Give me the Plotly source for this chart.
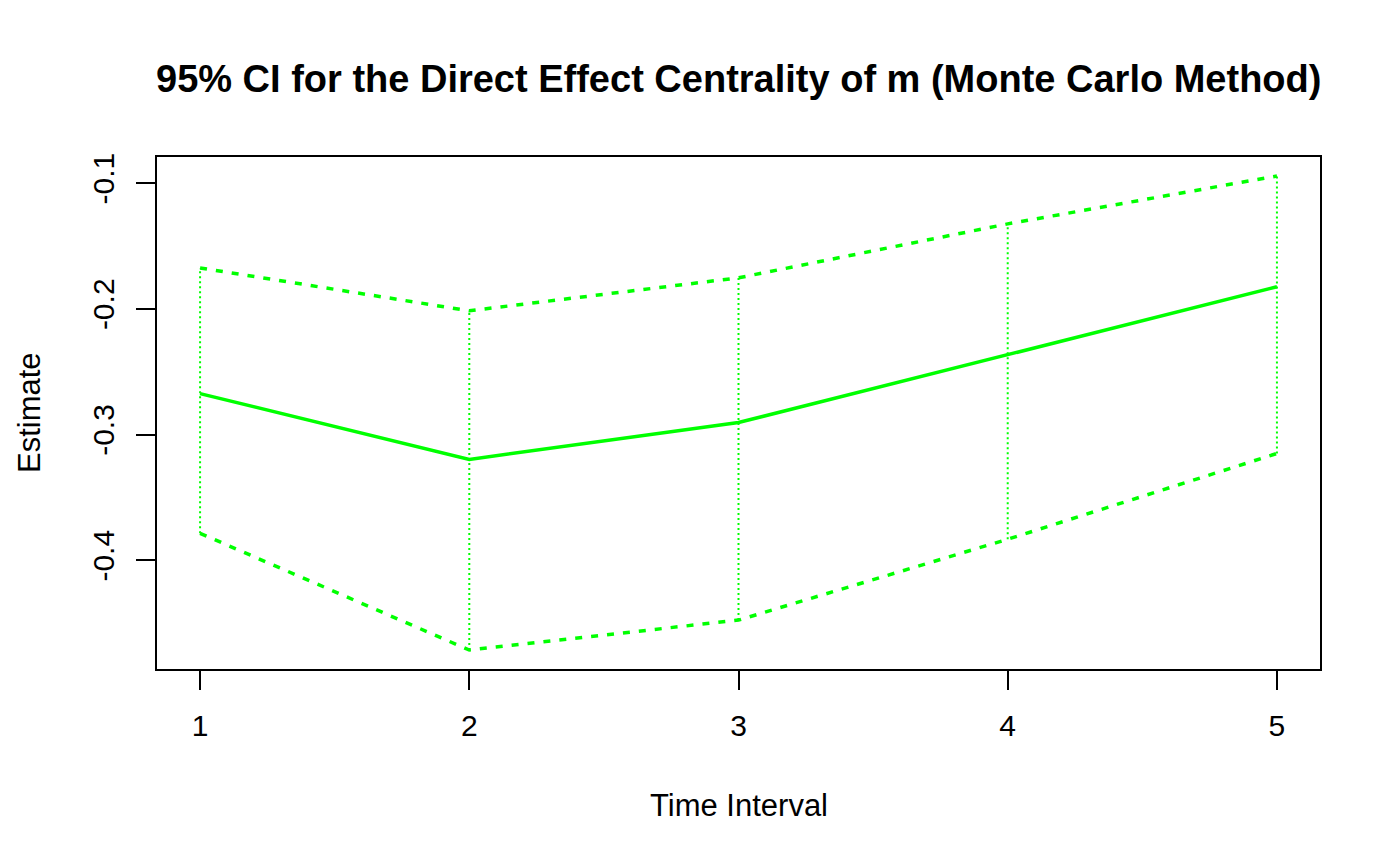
import plotly.graph_objects as go

intervals = [1, 2, 3, 4, 5]
estimate = [-0.2675, -0.3198, -0.2905, -0.2365, -0.1825]
upper = [-0.1675, -0.2016, -0.1754, -0.1325, -0.0944]
lower = [-0.3786, -0.4714, -0.4476, -0.3833, -0.3151]
y_ticks = [-0.4, -0.3, -0.2, -0.1]
y_tick_labels = ["-0.4", "-0.3", "-0.2", "-0.1"]

green = "#00FF00"
font = "Liberation Sans, Arial, Helvetica, sans-serif"

vx, vy = [], []
for x, lo, hi in zip(intervals, lower, upper):
    vx += [x, x, None]
    vy += [lo, hi, None]

fig = go.Figure()
fig.add_trace(go.Scatter(x=vx, y=vy, mode="lines",
                         line=dict(color=green, width=2, dash="2px,3px"),
                         hoverinfo="skip", showlegend=False))
fig.add_trace(go.Scatter(x=intervals, y=upper, mode="lines",
                         line=dict(color=green, width=3.5, dash="7px,9px"), showlegend=False))
fig.add_trace(go.Scatter(x=intervals, y=lower, mode="lines",
                         line=dict(color=green, width=3.5, dash="7px,9px"), showlegend=False))
fig.add_trace(go.Scatter(x=intervals, y=estimate, mode="lines",
                         line=dict(color=green, width=3.5), showlegend=False))

fig.update_layout(
    width=1392, height=858,
    paper_bgcolor="white", plot_bgcolor="white",
    margin=dict(l=149, r=80, t=149, b=197),
    font=dict(family=font, color="black", size=30),
    showlegend=False,
    annotations=[
        dict(text="<b>95% CI for the Direct Effect Centrality of m (Monte Carlo Method)</b>",
             xref="paper", yref="paper", x=0.5, y=1, yshift=78, xanchor="center", yanchor="middle",
             showarrow=False, font=dict(size=38, family=font, color="black")),
        dict(text="Time Interval", xref="paper", yref="paper", x=0.5, y=0, yshift=-136,
             xanchor="center", yanchor="middle", showarrow=False,
             font=dict(size=31, family=font, color="black")),
        dict(text="Estimate", xref="paper", yref="paper", x=0, y=0.5, xshift=-128,
             xanchor="center", yanchor="middle", textangle=-90, showarrow=False,
             font=dict(size=31, family=font, color="black")),
    ],
)
fig.update_xaxes(range=[0.84, 5.16], tickvals=intervals, ticktext=[str(i) for i in intervals],
                 showgrid=False, zeroline=False, showline=True, linecolor="black", linewidth=1.5,
                 mirror=True, ticks="outside", ticklen=19, tickwidth=1.5, tickcolor="black",
                 ticklabelstandoff=10, tickfont=dict(size=30, family=font, color="black"))
fig.update_yaxes(range=[-0.4865, -0.0793], tickvals=y_ticks, ticktext=y_tick_labels,
                 showgrid=False, zeroline=False, showline=True, linecolor="black", linewidth=1.5,
                 mirror=True, ticks="outside", ticklen=19, tickwidth=1.5, tickcolor="black",
                 tickangle=-90, ticklabelstandoff=10, tickfont=dict(size=30, family=font, color="black"))

fig.write_html("out.html")
